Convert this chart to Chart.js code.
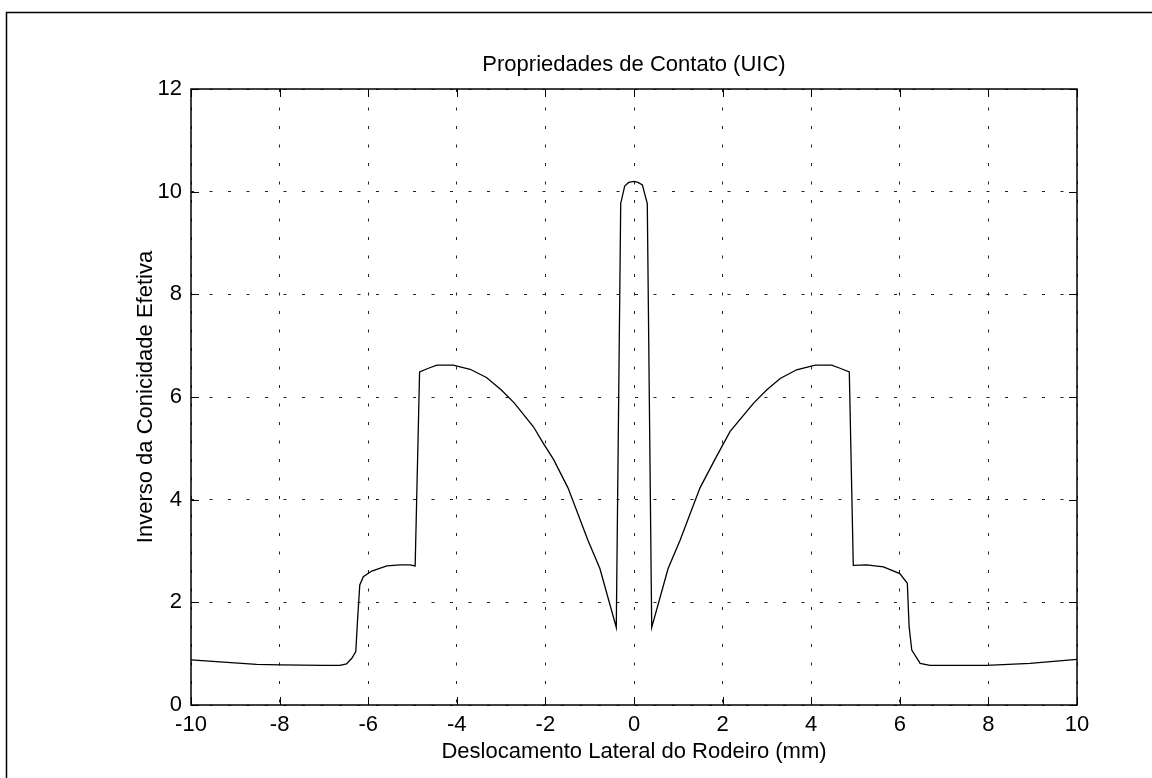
<!DOCTYPE html>
<html>
<head>
<meta charset="utf-8">
<script src="https://cdn.jsdelivr.net/npm/chart.js@4/dist/chart.umd.min.js"></script>
<style>
  html, body { margin: 0; padding: 0; background: #fff; }
  #wrap { width: 1152px; height: 778px; }
</style>
</head>
<body>
<div id="wrap"><canvas id="conicityChart" width="1152" height="778"></canvas></div>
<script>
// ----------------------------
// Data
// ----------------------------
const lateralShift = [
  -10.0, -9.35, -8.52, -7.99, -7.0, -6.64, -6.49, -6.37, -6.28, -6.24, -6.19, -6.11,
  -5.92, -5.58, -5.28, -5.06, -4.94, -4.84, -4.64, -4.45, -4.08, -3.70, -3.33, -3.00,
  -2.70, -2.27, -2.05, -1.82, -1.49, -1.04, -0.77, -0.40, -0.30, -0.21, -0.12, 0.0,
  0.09, 0.19, 0.30, 0.40, 0.77, 1.04, 1.49, 1.83, 2.17, 2.70, 3.00, 3.30,
  3.67, 4.09, 4.46, 4.65, 4.86, 4.95, 5.25, 5.63, 6.00, 6.17, 6.21, 6.27,
  6.46, 6.68, 7.96, 8.94, 10.0
];
const inverseConicity = [
  0.88, 0.84, 0.79, 0.78, 0.77, 0.77, 0.80, 0.91, 1.04, 1.66, 2.34, 2.50,
  2.61, 2.71, 2.73, 2.73, 2.71, 6.49, 6.56, 6.62, 6.62, 6.54, 6.38, 6.14,
  5.88, 5.42, 5.10, 4.79, 4.23, 3.21, 2.66, 1.51, 9.77, 10.11, 10.18, 10.20,
  10.18, 10.13, 9.77, 1.51, 2.66, 3.21, 4.23, 4.79, 5.33, 5.88, 6.14, 6.36,
  6.53, 6.62, 6.62, 6.56, 6.49, 2.72, 2.73, 2.69, 2.56, 2.37, 1.53, 1.07,
  0.81, 0.77, 0.77, 0.81, 0.89
];
const xTickValues = [-10, -8, -6, -4, -2, 0, 2, 4, 6, 8, 10];
const yTickValues = [0, 2, 4, 6, 8, 10, 12];

const FONT = '"Liberation Sans", Arial, Helvetica, sans-serif';

// ----------------------------
// Box, inward ticks and outer frame (MATLAB look)
// ----------------------------
const boxPlugin = {
  id: 'matlabBox',
  afterDraw(chart) {
    const { ctx, chartArea: a, scales } = chart;
    ctx.save();
    ctx.strokeStyle = '#000';
    // outer figure frame
    ctx.lineWidth = 1.5;
    ctx.beginPath();
    ctx.moveTo(6.5, 778);
    ctx.lineTo(6.5, 12.5);
    ctx.lineTo(1152, 12.5);
    ctx.stroke();
    // axes box
    ctx.lineWidth = 1.5;
    ctx.strokeRect(a.left, a.top, a.right - a.left, a.bottom - a.top);
    // inward tick marks
    ctx.lineWidth = 1;
    const len = 8;
    ctx.beginPath();
    xTickValues.forEach(v => {
      const px = Math.round(scales.x.getPixelForValue(v)) + 0.5;
      ctx.moveTo(px, a.bottom); ctx.lineTo(px, a.bottom - len);
      ctx.moveTo(px, a.top); ctx.lineTo(px, a.top + len);
    });
    yTickValues.forEach(v => {
      const py = Math.round(scales.y.getPixelForValue(v)) + 0.5;
      ctx.moveTo(a.left, py); ctx.lineTo(a.left + len, py);
      ctx.moveTo(a.right, py); ctx.lineTo(a.right - len, py);
    });
    ctx.stroke();
    ctx.restore();
  }
};

const points = lateralShift.map((x, i) => ({ x: x, y: inverseConicity[i] }));

new Chart(document.getElementById('conicityChart').getContext('2d'), {
  type: 'scatter',
  data: {
    datasets: [{
      data: points,
      showLine: true,
      borderColor: '#000',
      borderWidth: 1.3,
      pointRadius: 0,
      tension: 0,
      fill: false
    }]
  },
  options: {
    responsive: false,
    animation: false,
    devicePixelRatio: 1,
    layout: { padding: { left: 0, right: 75, top: 0, bottom: 0 } },
    plugins: {
      legend: { display: false },
      tooltip: { enabled: false },
      title: {
        display: true,
        fullSize: false,
        text: 'Propriedades de Contato (UIC)',
        color: '#000',
        font: { family: FONT, size: 22, weight: 'normal', lineHeight: 1 },
        padding: { top: 54, bottom: 13 }
      }
    },
    scales: {
      x: {
        type: 'linear',
        min: -10,
        max: 10,
        afterFit(scale) { scale.height = 73; },
        afterBuildTicks(scale) { scale.ticks = xTickValues.map(v => ({ value: v })); },
        ticks: {
          color: '#000',
          padding: 7,
          maxRotation: 0,
          font: { family: FONT, size: 22 }
        },
        grid: { color: '#222', lineWidth: 1, drawTicks: false },
        border: { display: false, dash: [3, 15.5] },
        title: {
          display: true,
          text: 'Deslocamento Lateral do Rodeiro (mm)',
          color: '#000',
          font: { family: FONT, size: 22, lineHeight: 1 },
          padding: { top: 0, bottom: 15 }
        }
      },
      y: {
        type: 'linear',
        min: 0,
        max: 12,
        afterFit(scale) { scale.width = 191; },
        afterBuildTicks(scale) { scale.ticks = yTickValues.map(v => ({ value: v })); },
        ticks: {
          color: '#000',
          padding: 9,
          font: { family: FONT, size: 22 }
        },
        grid: { color: '#222', lineWidth: 1, drawTicks: false },
        border: { display: false, dash: [3, 15.5] },
        title: {
          display: true,
          text: 'Inverso da Conicidade Efetiva',
          color: '#000',
          font: { family: FONT, size: 22, lineHeight: 1 },
          padding: { top: 135, bottom: 0 }
        }
      }
    }
  },
  plugins: [boxPlugin]
});
</script>
</body>
</html>
